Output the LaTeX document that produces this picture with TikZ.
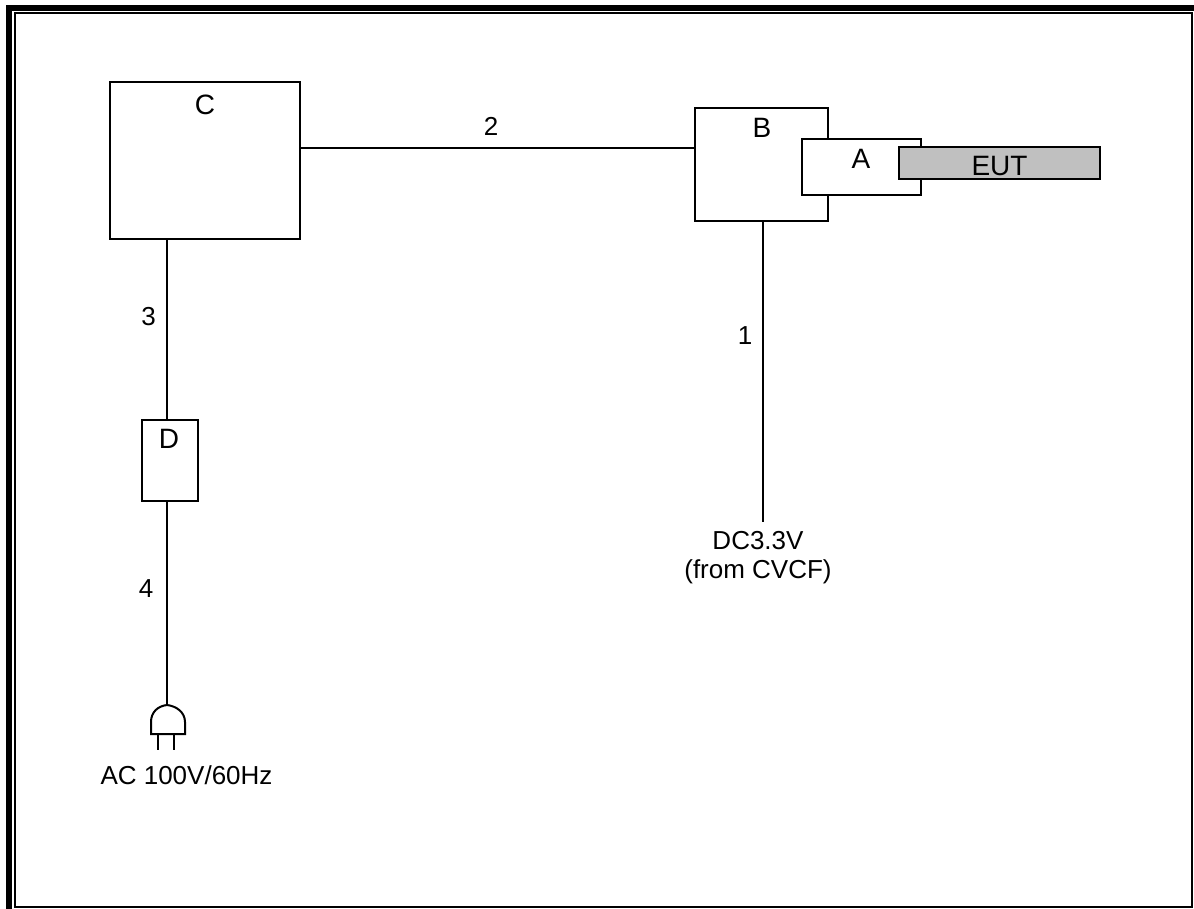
\documentclass[tikz,border=0pt]{standalone}
\usepackage{fontspec}
\setmainfont{Liberation Sans}
\usetikzlibrary{positioning,calc}
\definecolor{eutGray}{RGB}{192,192,192}

\begin{document}
\begin{tikzpicture}[
    x=0.5pt, y=-0.5pt,
    box/.style={rectangle, draw=black, fill=white, line width=1pt, inner sep=0pt},
    wire/.style={line width=1pt, black},
    txt/.style={inner sep=0pt, font=\fontsize{13}{14.5}\selectfont},
    letter/.style={inner sep=0pt, font=\fontsize{14}{16}\selectfont}
  ]
  \useasboundingbox (0,0) rectangle (1194,909);
  \fill[black] (6,5) rectangle (1194,11);
  \fill[black] (6,5) rectangle (12,909);
  \draw[line width=1pt] (15,13) rectangle (1192,907);

  \node[box, minimum width=95pt, minimum height=78.5pt]   (C) at (205,160.5) {};
  \node[box, minimum width=66.5pt, minimum height=56.5pt] (B) at (761.5,164.5) {};
  \node[box, minimum width=59.5pt, minimum height=28pt]   (A) at (861.5,167) {};
  \node[box, fill=eutGray, minimum width=100.5pt, minimum height=16pt] (EUT) at (999.5,163) {};
  \node[box, minimum width=28pt, minimum height=40.5pt]   (D) at (170,460.5) {};

  \node[letter] (labelC) at (205,105) {C};
  \node[letter] (labelB) at (762,127.5) {B};
  \node[letter] (labelA) at (861,158.5) {A};
  \node[letter] (labelEUT) at (999.5,166) {EUT};
  \node[letter] (labelD) at (169,438.5) {D};
  \node[txt] (cable1) at (745,336) {1};
  \node[txt] (cable2) at (491,126) {2};
  \node[txt] (cable3) at (148.5,317) {3};
  \node[txt] (cable4) at (146,589) {4};
  \node[txt, align=center] (dcin) at (758,558) {DC3.3V\\(from CVCF)};
  \node[txt] (acin) at (186.5,775) {AC 100V/60Hz};

  \coordinate (dcend) at (763,522);
  \coordinate (plugtop) at (167,705);
  \draw[wire] ([yshift=6.25pt]C.east) -- ([yshift=8.25pt]B.west);
  \draw[wire] ([xshift=0.75pt]B.south) -- (dcend);
  \draw[wire] ([xshift=-19pt]C.south) -- ([xshift=-1.5pt]D.north);
  \draw[wire] ([xshift=-1.5pt]D.south) -- (plugtop);

  \draw[wire] (151,734) -- (151,722) .. controls (151,712) and (158,706) .. (plugtop)
    .. controls (176,706) and (185,712) .. (185,722) -- (185,734) -- cycle;
  \draw[wire] (158,734) -- (158,750);
  \draw[wire] (174,734) -- (174,750);
\end{tikzpicture}
\end{document}
